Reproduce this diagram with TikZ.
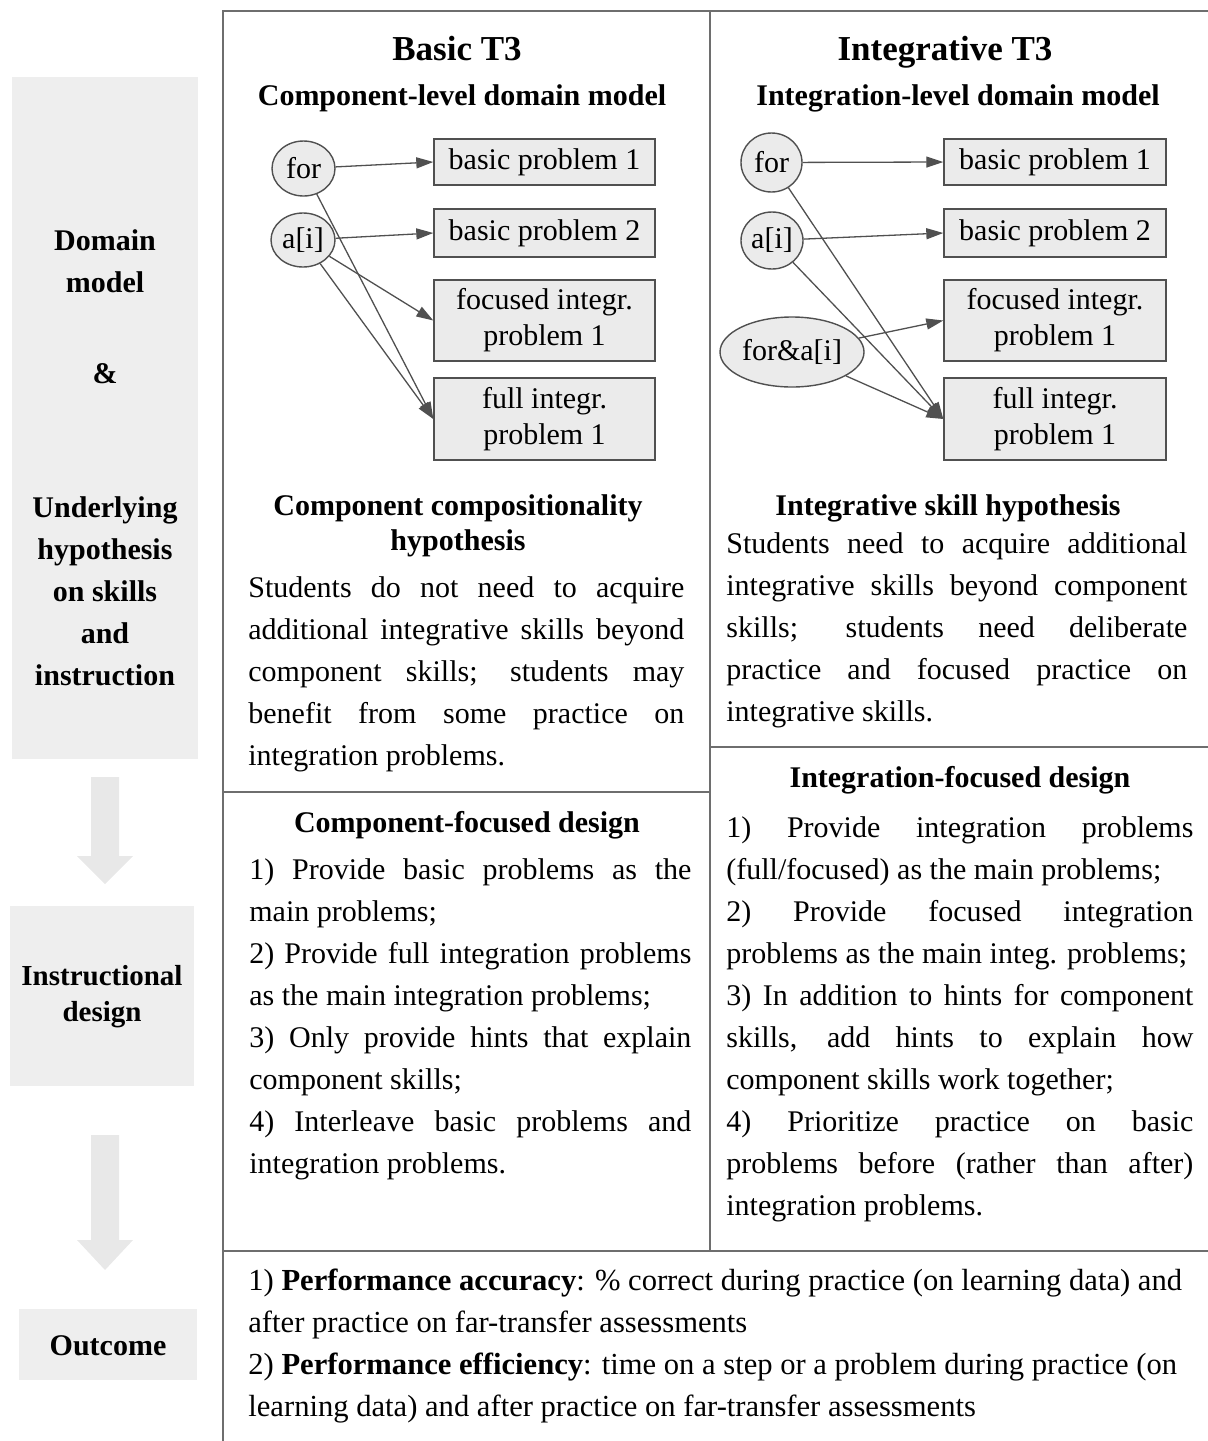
\documentclass[tikz,border=0pt]{standalone}
\usepackage{fontspec}
\setmainfont{Liberation Serif}
\usetikzlibrary{shapes.geometric,arrows.meta,calc}
\definecolor{boxfill}{HTML}{EBEBEB}
\definecolor{leftfill}{HTML}{EEEEEE}
\definecolor{arrowfill}{HTML}{E8E8E8}
\definecolor{edgec}{HTML}{505050}
\definecolor{rulec}{HTML}{6E6E6E}
\newcommand{\jl}[1]{\makebox[\linewidth][s]{#1}}
\newcommand{\rl}[1]{\mbox{#1}}
\begin{document}
\begin{tikzpicture}[x=0.5pt,y=-0.5pt,
  body/.style={anchor=base west, inner sep=0pt, font=\fontsize{15}{21}\selectfont},
  head/.style={anchor=base, inner sep=0pt, font=\fontsize{15}{18}\selectfont\bfseries},
  ttl/.style={anchor=base, inner sep=0pt, font=\fontsize{17.5}{20}\selectfont\bfseries},
  skill/.style={ellipse, draw=edgec, fill=boxfill, line width=0.7pt, inner sep=0pt, font=\fontsize{15}{18}\selectfont},
  prob/.style={rectangle, draw=edgec, fill=boxfill, line width=0.7pt, inner sep=0pt, minimum width=110.5pt, align=center, font=\fontsize{15}{18}\selectfont},
  conn/.style={draw=edgec, line width=0.65pt, -{Triangle[length=8.5pt,width=5.5pt]}},
  rule/.style={draw=rulec, line width=1.2pt},
  stage/.style={fill=leftfill, inner sep=0pt},
  stagetxt/.style={anchor=base, inner sep=0pt, font=\fontsize{15}{18}\selectfont\bfseries},
  bigarrow/.style={fill=arrowfill}
]
\useasboundingbox (0,0) rectangle (1208,1441);

% ---- left stage column ----
\node[stage, minimum width=93pt, minimum height=341pt] (sA) at (105,418) {};
\node[stage, minimum width=92pt, minimum height=90pt] (sB) at (102,996) {};
\node[stage, minimum width=89pt, minimum height=35.5pt] (sC) at (108,1344.5) {};
\fill[bigarrow] (91,777) -- (119,777) -- (119,856) -- (133,856) -- (105,884) -- (77,856) -- (91,856) -- cycle;
\fill[bigarrow] (91,1135) -- (119,1135) -- (119,1240) -- (133,1240) -- (105,1270) -- (77,1240) -- (91,1240) -- cycle;

\node[stagetxt] (tA1) at (105,250) {Domain};
\node[stagetxt] (tA2) at (105,292) {model};
\node[stagetxt] (tA3) at (105,383) {\&};
\node[stagetxt] (tA4) at (105,517) {Underlying};
\node[stagetxt] (tA5) at (105,559) {hypothesis};
\node[stagetxt] (tA6) at (105,601) {on skills};
\node[stagetxt] (tA7) at (105,643) {and};
\node[stagetxt] (tA8) at (105,685) {instruction};
\node[stagetxt, font=\fontsize{14.5}{18}\selectfont\bfseries] (tB1) at (102,985) {Instructional};
\node[stagetxt, font=\fontsize{14.5}{18}\selectfont\bfseries] (tB2) at (102,1021) {design};
\node[stagetxt] (tC1) at (108,1355) {Outcome};

% ---- table rules ----
\draw[rule] (222,11) -- (1208,11);
\draw[rule] (223,11) -- (223,1441);
\draw[rule] (710,11) -- (710,1251);
\draw[rule] (223,792) -- (710,792);
\draw[rule] (710,747) -- (1208,747);
\draw[rule] (223,1251) -- (1208,1251);

% ---- titles ----
\node[ttl] (bt) at (457,60) {Basic T3};
\node[head] (bst) at (462,105) {Component-level domain model};
\node[ttl] (it) at (945,60) {Integrative T3};
\node[head] (ist) at (958,105) {Integration-level domain model};

% ---- left domain model ----
\node[skill, minimum width=31.5pt, minimum height=27.5pt] (lfor) at (303.5,168.5) {for};
\node[skill, minimum width=32pt, minimum height=27pt] (lai) at (303,240) {a[i]};
\node[prob, minimum height=23pt] (lbp1) at (544.5,162) {basic problem 1};
\node[prob, minimum height=24pt] (lbp2) at (544.5,233) {basic problem 2};
\node[prob, minimum height=40.5pt] (lfoc) at (544.5,320.5) {focused integr.\\problem 1};
\node[prob, minimum height=41pt] (lfull) at (544.5,419) {full integr.\\problem 1};
\draw[conn] (lfor) -- (lbp1.west);
\draw[conn] (lai) -- (lbp2.west);
\draw[conn] (lai) -- (lfoc.west);
\draw[conn] (lai) -- (lfull.west);
\draw[conn] (lfor) -- (lfull.west);

% ---- right domain model ----
\node[skill, minimum width=30.5pt, minimum height=29.5pt] (rfor) at (771.5,162.5) {for};
\node[skill, minimum width=31pt, minimum height=28.5pt] (rai) at (772,240.5) {a[i]};
\node[skill, minimum width=72pt, minimum height=35pt] (rfa) at (792,352) {for\&a[i]};
\node[prob, minimum height=23pt, minimum width=111pt] (rbp1) at (1055,162) {basic problem 1};
\node[prob, minimum height=24pt, minimum width=111pt] (rbp2) at (1055,233) {basic problem 2};
\node[prob, minimum height=40.5pt, minimum width=111pt] (rfoc) at (1055,320.5) {focused integr.\\problem 1};
\node[prob, minimum height=41pt, minimum width=111pt] (rfull) at (1055,419) {full integr.\\problem 1};
\draw[conn] (rfor) -- (rbp1.west);
\draw[conn] (rai) -- (rbp2.west);
\draw[conn] (rfa) -- (rfoc.west);
\draw[conn] (rfa) -- (rfull.west);
\draw[conn] (rai) -- (rfull.west);
\draw[conn] (rfor) -- (rfull.west);

% ---- hypotheses ----
\node[head] (lh1) at (458,515) {Component compositionality};
\node[head] (lh2) at (458,550) {hypothesis};
\node[body] (lhb) at (248,597) {\parbox[t]{218pt}{%
\jl{Students do not need to acquire}\\
\jl{additional integrative skills beyond}\\
\jl{component skills; students may}\\
\jl{benefit from some practice on}\\
\rl{integration problems.}}};

\node[head] (rh1) at (948,515) {Integrative skill hypothesis};
\node[body] (rhb) at (726,553) {\parbox[t]{230.5pt}{%
\jl{Students need to acquire additional}\\
\jl{integrative skills beyond component}\\
\jl{skills; students need deliberate}\\
\jl{practice and focused practice on}\\
\rl{integrative skills.}}};

% ---- designs ----
\node[head] (ld1) at (467,832) {Component-focused design};
\node[body] (ldb) at (249,879) {\parbox[t]{221pt}{%
\jl{1) Provide basic problems as the}\\
\rl{main problems;}\\
\jl{2) Provide full integration problems}\\
\rl{as the main integration problems;}\\
\jl{3) Only provide hints that explain}\\
\rl{component skills;}\\
\jl{4) Interleave basic problems and}\\
\rl{integration problems.}}};

\node[head] (rd1) at (960,787) {Integration-focused design};
\node[body] (rdb) at (726,837) {\parbox[t]{233.5pt}{%
\jl{1) Provide integration problems}\\
\rl{(full/focused) as the main problems;}\\
\jl{2) Provide focused integration}\\
\rl{problems as the main integ. problems;}\\
\jl{3) In addition to hints for component}\\
\jl{skills, add hints to explain how}\\
\rl{component skills work together;}\\
\jl{4) Prioritize practice on basic}\\
\jl{problems before (rather than after)}\\
\rl{integration problems.}}};

% ---- outcome ----
\node[body, font=\fontsize{15.3}{21.1}\selectfont] (ob) at (248,1290) {\parbox[t]{480pt}{%
\rl{1) \textbf{Performance accuracy}: \% correct during practice (on learning data) and}\\
\rl{after practice on far-transfer assessments}\\
\rl{2) \textbf{Performance efficiency}: time on a step or a problem during practice (on}\\
\rl{learning data) and after practice on far-transfer assessments}}};
\end{tikzpicture}
\end{document}
